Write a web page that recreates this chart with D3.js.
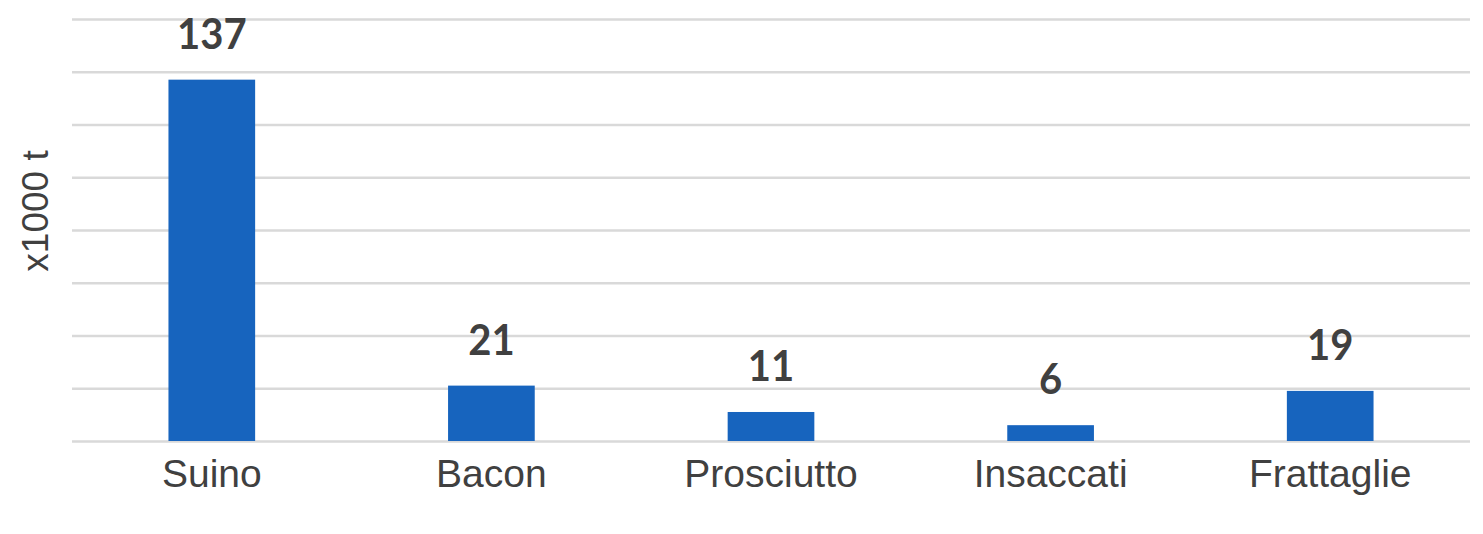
<!DOCTYPE html>
<html>
<head>
<meta charset="utf-8">
<script src="https://cdn.jsdelivr.net/npm/d3@7"></script>
<style>
  html, body { margin: 0; padding: 0; background: #fff; }
  svg { display: block; }
</style>
</head>
<body>
<svg id="chart" width="1483" height="534"></svg>
<script>
const categories = ["Suino", "Bacon", "Prosciutto", "Insaccati", "Frattaglie"];
const values = [137, 21, 11, 6, 19];
const yTicks = [0, 20, 40, 60, 80, 100, 120, 140, 160];
const yTitle = "x1000 t";

const W = 1483, H = 534;
const m = { left: 72, right: 13, top: 19, bottom: 93 };
const svg = d3.select("#chart");

const x = d3.scaleBand().domain(categories).range([m.left, W - m.right]).padding(0);
const y = d3.scaleLinear().domain([0, 160]).range([H - m.bottom, m.top]);

// gridlines
const yAxis = d3.axisLeft(y).tickValues(yTicks).tickSize(-(W - m.left - m.right)).tickFormat("");
const gy = svg.append("g").attr("transform", `translate(${m.left},0)`).call(yAxis);
gy.select(".domain").remove();
gy.selectAll(".tick line").attr("stroke", "#d9d9d9").attr("stroke-width", 2.5);

// bars
const bw = x.bandwidth() * 0.31;
svg.append("g").selectAll("rect").data(categories).join("rect")
  .attr("x", d => x(d) + x.bandwidth() / 2 - bw / 2)
  .attr("y", (d, i) => y(values[i]))
  .attr("width", bw)
  .attr("height", (d, i) => y(0) - y(values[i]))
  .attr("fill", "#1764be");

// data labels
svg.append("g").selectAll("text").data(categories).join("text")
  .attr("transform", (d, i) => `translate(${x(d) + x.bandwidth() / 2},${y(values[i]) - 31}) scale(1,1.05)`)
  .attr("text-anchor", "middle")
  .attr("font-family", "Lato, 'Open Sans', sans-serif")
  .attr("font-weight", "bold")
  .attr("font-size", 40)
  .attr("fill", "#404040")
  .text((d, i) => values[i]);

// x axis labels
const xAxis = d3.axisBottom(x).tickSize(0).tickPadding(0);
const gx = svg.append("g").attr("transform", `translate(0,${H - m.bottom})`).call(xAxis);
gx.select(".domain").remove();
gx.selectAll(".tick text")
  .attr("y", 46).attr("dy", null)
  .attr("font-family", "'Liberation Sans', Arial, sans-serif")
  .attr("font-size", 39)
  .attr("fill", "#404040");

// y title
svg.append("text")
  .attr("transform", `translate(48,${(y(0) + y(160)) / 2 - 19}) rotate(-90)`)
  .attr("text-anchor", "middle")
  .attr("font-family", "'Liberation Sans', Arial, sans-serif")
  .attr("font-size", 37)
  .attr("fill", "#404040")
  .text(yTitle);
</script>
</body>
</html>
